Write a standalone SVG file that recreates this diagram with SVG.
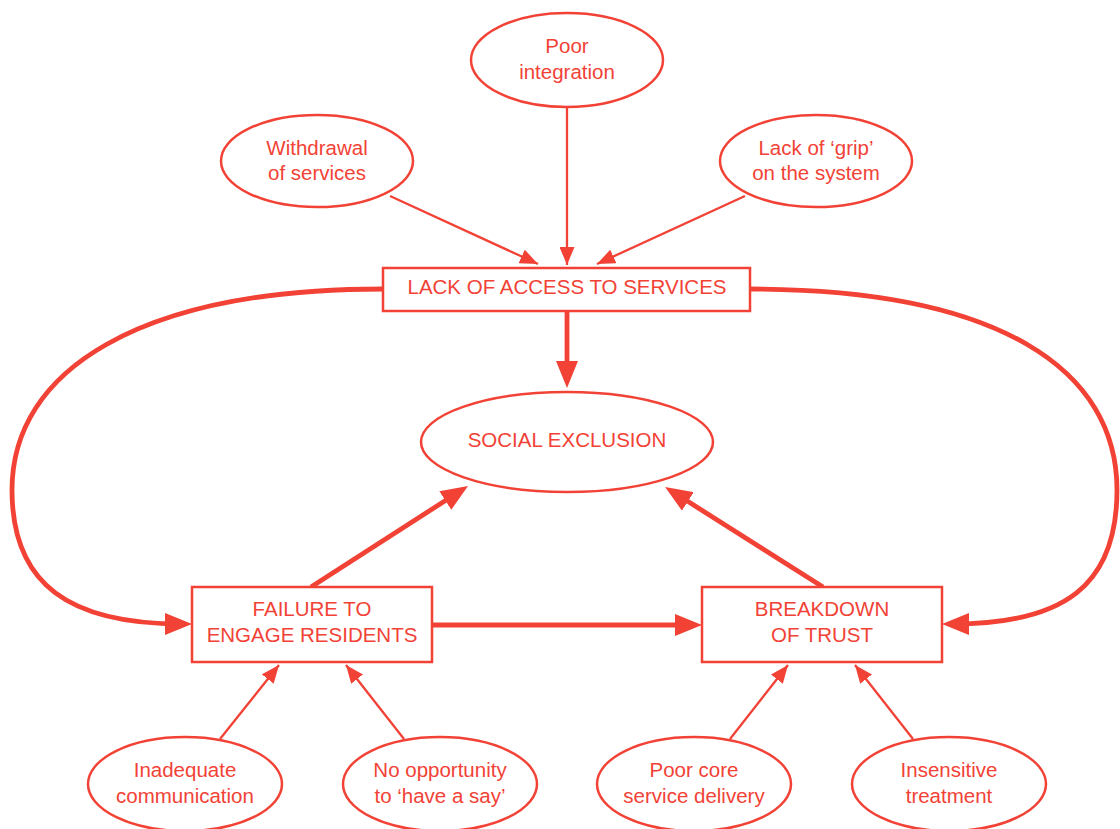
<svg xmlns="http://www.w3.org/2000/svg" width="1120" height="829" viewBox="0 0 1120 829">
<defs>
<style>
.n{fill:#fff;stroke:#f24236;stroke-width:2.5}
.t{fill:#f24236;font-family:"Liberation Sans",Arial,sans-serif;font-size:20.5px;text-anchor:middle}
.thin{fill:none;stroke:#f24236;stroke-width:2.3}
.thick{fill:none;stroke:#f24236;stroke-width:4.8}
</style>
<marker id="ah" markerUnits="userSpaceOnUse" markerWidth="18" markerHeight="15" refX="18" refY="7.5" orient="auto"><path d="M0,0 L18,7.5 L0,15 z" fill="#f24236"/></marker>
<marker id="ahT" markerUnits="userSpaceOnUse" markerWidth="27" markerHeight="22" refX="17" refY="11" orient="auto"><path d="M0,0 L27,11 L0,22 z" fill="#f24236"/></marker>
</defs>
<rect width="1120" height="829" fill="#fff"/>
<g id="connectors">
<path class="thin" d="M390,196 L538,264" marker-end="url(#ah)"/>
<path class="thin" d="M567,107 L567,265" marker-end="url(#ah)"/>
<path class="thin" d="M745,196 L597,264" marker-end="url(#ah)"/>
<path class="thick" d="M567,311 L567,378" marker-end="url(#ahT)"/>
<path class="thick" d="M311,587 L459.6,491.4" marker-end="url(#ahT)"/>
<path class="thick" d="M823,587 L673.5,492.3" marker-end="url(#ahT)"/>
<path class="thick" d="M432,625 L692,625" marker-end="url(#ahT)"/>
<path class="thick" d="M383,289 C140,289 12,370 12,490 C12,585 70,624 182,624" marker-end="url(#ahT)"/>
<path class="thick" d="M750,289 C1000,289 1117,370 1117,490 C1117,585 1065,624 952,624" marker-end="url(#ahT)"/>
<path class="thin" d="M220,739 L279,665" marker-end="url(#ah)"/>
<path class="thin" d="M404,739 L346,665" marker-end="url(#ah)"/>
<path class="thin" d="M730,739 L788,665" marker-end="url(#ah)"/>
<path class="thin" d="M913,739 L855,665" marker-end="url(#ah)"/>
</g>
<g id="poor-integration"><ellipse class="n" cx="567" cy="60" rx="96" ry="47"/><text class="t" x="567" y="53">Poor</text><text class="t" x="567" y="79">integration</text></g>
<g id="withdrawal"><ellipse class="n" cx="317" cy="161" rx="96" ry="46"/><text class="t" x="317" y="155">Withdrawal</text><text class="t" x="317" y="180">of services</text></g>
<g id="lack-of-grip"><ellipse class="n" cx="816" cy="161" rx="96" ry="46"/><text class="t" x="816" y="155">Lack of ‘grip’</text><text class="t" x="816" y="180">on the system</text></g>
<g id="lack-of-access"><rect class="n" x="383" y="268" width="367" height="43"/><text class="t" x="567" y="294">LACK OF ACCESS TO SERVICES</text></g>
<g id="social-exclusion"><ellipse class="n" cx="567" cy="442" rx="146" ry="50"/><text class="t" x="567" y="447">SOCIAL EXCLUSION</text></g>
<g id="failure"><rect class="n" x="192" y="587" width="240" height="75"/><text class="t" x="312" y="616">FAILURE TO</text><text class="t" x="312" y="642">ENGAGE RESIDENTS</text></g>
<g id="breakdown"><rect class="n" x="702" y="587" width="240" height="75"/><text class="t" x="822" y="616">BREAKDOWN</text><text class="t" x="822" y="642">OF TRUST</text></g>
<g id="inadequate"><ellipse class="n" cx="185" cy="784" rx="97" ry="47"/><text class="t" x="185" y="777">Inadequate</text><text class="t" x="185" y="803">communication</text></g>
<g id="no-opportunity"><ellipse class="n" cx="440" cy="784" rx="97" ry="47"/><text class="t" x="440" y="777">No opportunity</text><text class="t" x="440" y="803">to ‘have a say’</text></g>
<g id="poor-core"><ellipse class="n" cx="694" cy="784" rx="97" ry="47"/><text class="t" x="694" y="777">Poor core</text><text class="t" x="694" y="803">service delivery</text></g>
<g id="insensitive"><ellipse class="n" cx="949" cy="784" rx="97" ry="47"/><text class="t" x="949" y="777">Insensitive</text><text class="t" x="949" y="803">treatment</text></g>
</svg>
